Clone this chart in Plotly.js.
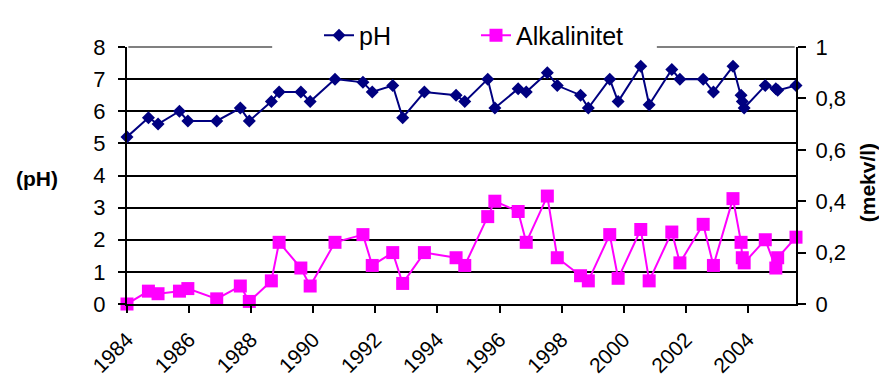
<!DOCTYPE html>
<html><head><meta charset="utf-8">
<script src="https://cdn.plot.ly/plotly-3.0.1.min.js"></script>
<style>html,body{margin:0;padding:0;background:#fff}#chart{width:879px;height:378px}</style>
</head><body><div id="chart"></div>
<script>
const years = [1984.0, 1984.69, 1985.0, 1985.69, 1985.96, 1986.89, 1987.65, 1987.94, 1988.65, 1988.9,
  1989.6, 1989.9, 1990.7, 1991.6, 1991.9, 1992.56, 1992.88, 1993.58, 1994.6, 1994.88,
  1995.62, 1995.85, 1996.6, 1996.86, 1997.54, 1997.86, 1998.61, 1998.86, 1999.55, 1999.82,
  2000.55, 2000.82, 2001.55, 2001.81, 2002.56, 2002.89, 2003.52, 2003.78, 2003.82, 2003.88,
  2004.56, 2004.9, 2004.96, 2005.55];
const phValues = [5.2, 5.8, 5.6, 6.0, 5.7, 5.7, 6.1, 5.7, 6.3, 6.6,
  6.6, 6.3, 7.0, 6.9, 6.6, 6.8, 5.8, 6.6, 6.5, 6.3,
  7.0, 6.1, 6.7, 6.6, 7.2, 6.8, 6.5, 6.1, 7.0, 6.3,
  7.4, 6.2, 7.3, 7.0, 7.0, 6.6, 7.4, 6.5, 6.3, 6.1,
  6.8, 6.7, 6.65, 6.8];
const alkValues = [0.0, 0.05, 0.04, 0.05, 0.06, 0.02, 0.07, 0.01, 0.09, 0.24,
  0.14, 0.07, 0.24, 0.27, 0.15, 0.20, 0.08, 0.20, 0.18, 0.15,
  0.34, 0.40, 0.36, 0.24, 0.42, 0.18, 0.11, 0.09, 0.27, 0.10,
  0.29, 0.09, 0.28, 0.16, 0.31, 0.15, 0.41, 0.24, 0.18, 0.16,
  0.25, 0.14, 0.18, 0.26];
const xTickYears = [1984, 1986, 1988, 1990, 1992, 1994, 1996, 1998, 2000, 2002, 2004];
const xTickLabels = ['1984', '1986', '1988', '1990', '1992', '1994', '1996', '1998', '2000', '2002', '2004'];
const phTicks = [0, 1, 2, 3, 4, 5, 6, 7, 8];
const seriesNames = ['pH', 'Alkalinitet'];
const axisTitles = ['(pH)', '(mekv/l)'];

const FONT = 'Liberation Sans, Arial, sans-serif';
const traces = [
  {x: years, y: phValues, name: seriesNames[0], type: 'scatter', mode: 'lines+markers',
   line: {color: '#000080', width: 2}, marker: {symbol: 'diamond', size: 10, color: '#000080'},
   cliponaxis: false, yaxis: 'y'},
  {x: years, y: alkValues, name: seriesNames[1], type: 'scatter', mode: 'lines+markers',
   line: {color: '#FF00FF', width: 2}, marker: {symbol: 'square', size: 13, color: '#FF00FF'},
   cliponaxis: false, yaxis: 'y2'}
];
const layout = {
  width: 879, height: 378,
  margin: {l: 127, r: 83, t: 35, b: 74},
  paper_bgcolor: '#ffffff', plot_bgcolor: '#ffffff',
  separators: ', ',
  font: {family: FONT, size: 22, color: '#000'},
  showlegend: true,
  legend: {orientation: 'h', x: 0.287, y: 1.045, xanchor: 'left', yanchor: 'middle',
    font: {family: FONT, size: 25, color: '#000'}, bgcolor: 'rgba(255,255,255,0)',
    entrywidth: 112, entrywidthmode: 'pixels', itemclick: false},
  xaxis: {range: [1984, 2005.55], tickmode: 'array', tickvals: xTickYears, ticktext: xTickLabels,
    tickangle: -45, ticks: 'outside', ticklen: 7, tickwidth: 2, tickcolor: '#000',
    showline: true, linecolor: '#000', linewidth: 2, showgrid: false, zeroline: false,
    ticklabelstandoff: 6, tickfont: {size: 21}},
  yaxis: {range: [0, 8], tickmode: 'array', tickvals: phTicks, ticks: 'outside', ticklen: 7,
    tickwidth: 2, tickcolor: '#000', showline: true, linecolor: '#000', linewidth: 2,
    showgrid: true, gridcolor: '#000', gridwidth: 2, zeroline: false, ticklabelstandoff: 8,
    tickfont: {size: 22}},
  yaxis2: {range: [0, 1], overlaying: 'y', side: 'right', tickmode: 'linear', tick0: 0, dtick: 0.2,
    ticks: 'outside', ticklen: 8, tickwidth: 2, tickcolor: '#000', showline: true, linecolor: '#000',
    linewidth: 2, showgrid: false, zeroline: false, ticklabelstandoff: 5, tickfont: {size: 22}},
  shapes: [
    {type: 'line', xref: 'paper', yref: 'paper', x0: 0.217, x1: 0.792, y0: 1, y1: 1,
     line: {color: '#ffffff', width: 4}, layer: 'above'},
    {type: 'line', xref: 'paper', yref: 'paper', x0: 0.002, x1: 0.217, y0: 1, y1: 1,
     line: {color: '#808080', width: 2}, layer: 'above'},
    {type: 'line', xref: 'paper', yref: 'paper', x0: 0.792, x1: 0.998, y0: 1, y1: 1,
     line: {color: '#808080', width: 2}, layer: 'above'}
  ],
  annotations: [
    {text: '<b>' + axisTitles[0] + '</b>', xref: 'paper', yref: 'paper', x: -0.135, y: 0.49,
     xanchor: 'center', yanchor: 'middle', showarrow: false, font: {family: FONT, size: 21}},
    {text: '<b>' + axisTitles[1] + '</b>', xref: 'paper', yref: 'paper', x: 1.107, y: 0.472,
     xanchor: 'center', yanchor: 'middle', textangle: -90, showarrow: false, font: {family: FONT, size: 21}}
  ]
};
Plotly.newPlot('chart', traces, layout, {displayModeBar: false, staticPlot: true});
</script>
</body></html>
